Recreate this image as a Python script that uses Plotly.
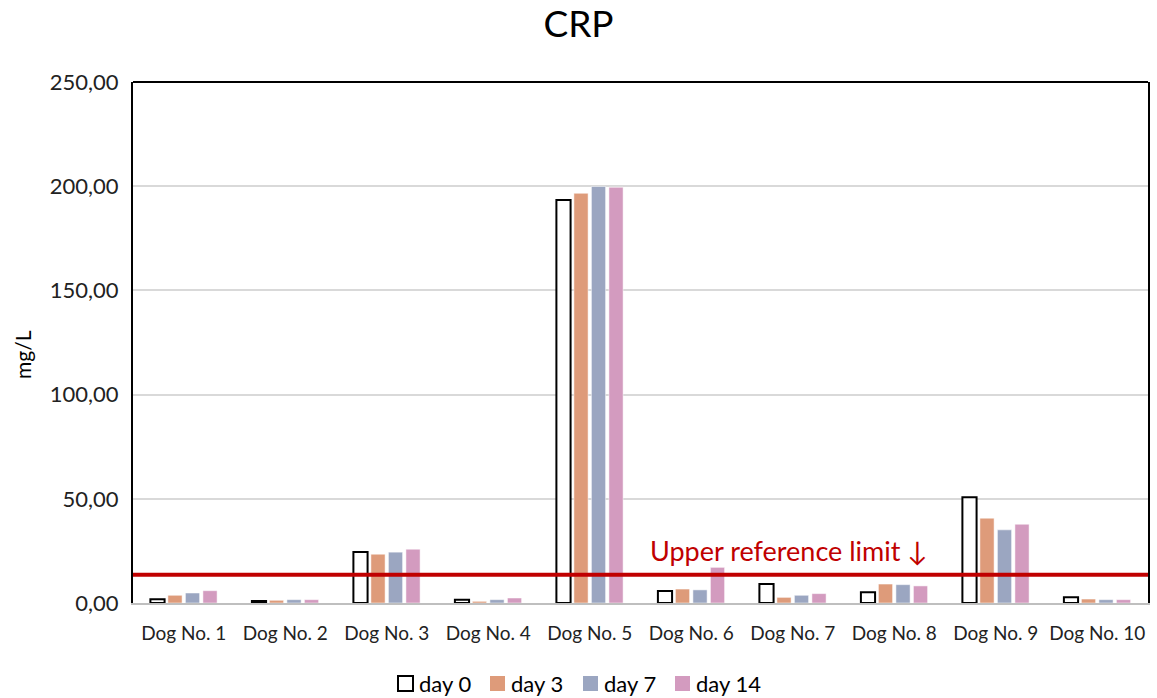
import plotly.graph_objects as go

dogs = [f"Dog No. {i}" for i in range(1, 11)]
day0 = [1.8, 1.0, 24.5, 1.6, 193.4, 5.8, 9.1, 5.1, 50.8, 2.7]
day3 = [3.7, 1.3, 23.4, 0.8, 196.6, 6.7, 2.7, 9.1, 40.7, 1.9]
day7 = [4.8, 1.6, 24.4, 1.6, 199.9, 6.3, 3.7, 8.8, 35.1, 1.6]
day14 = [5.9, 1.6, 25.8, 2.4, 199.5, 17.1, 4.5, 8.2, 37.8, 1.6]
upper_limit = 13.5

series_names = ["day 0", "day 3", "day 7", "day 14"]
series_fill = ["white", "#DE9B7A", "#9BA6C1", "#D39BBF"]
series_edge = ["black", "#DE9B7A", "#9BA6C1", "#D39BBF"]

FONT = "Lato, Carlito, Calibri, sans-serif"

W, H = 1157, 698
L, R, T, B = 133, 9, 82, 95
PW, PH = W - L - R, H - T - B


def px_x(px):
    return (px - L) / PW


def px_y(py):
    return (H - B - py) / PH


fig = go.Figure()
for name, vals, fill, edge in zip(series_names, [day0, day3, day7, day14],
                                  series_fill, series_edge):
    fig.add_bar(name=name, x=dogs, y=vals, showlegend=False,
                marker=dict(color=fill,
                            line=dict(color=edge if fill == "white" else "white",
                                      width=2 if fill == "white" else 0.5)))

# Upper reference limit line across the plot area
fig.add_shape(type="line", xref="paper", x0=0, x1=1, yref="y",
              y0=upper_limit, y1=upper_limit,
              line=dict(color="#C00000", width=4))
fig.add_annotation(text="Upper reference limit \u2193", xref="paper", x=px_x(789),
                   yref="paper", y=px_y(550), yanchor="middle", showarrow=False,
                   font=dict(family=FONT, size=27, color="#C00000"))
# top border of plot frame
fig.add_shape(type="line", xref="paper", x0=0, x1=1, yref="paper", y0=1, y1=1,
              line=dict(color="black", width=2))

# y-axis title
fig.add_annotation(text="mg/L", xref="paper", x=px_x(22), yref="paper", y=px_y(355),
                   textangle=-90, showarrow=False, xanchor="center", yanchor="middle",
                   font=dict(family=FONT, size=21, color="black"))

# legend row under the axis
leg_sq = [398, 490, 583, 675]
for sx, name, fill, edge in zip(leg_sq, series_names, series_fill, series_edge):
    fig.add_shape(type="rect", xref="paper", yref="paper",
                  x0=px_x(sx), x1=px_x(sx + 15), y0=px_y(691), y1=px_y(676),
                  fillcolor=fill, line=dict(color=edge, width=2 if fill == "white" else 0))
    fig.add_annotation(text=name, xref="paper", x=px_x(sx + 19), xanchor="left",
                       yref="paper", y=px_y(683), yanchor="middle", showarrow=False,
                       font=dict(family=FONT, size=22, color="black"))

fig.update_layout(
    width=W, height=H,
    margin=dict(l=L, r=R, t=T, b=B, autoexpand=False),
    paper_bgcolor="white", plot_bgcolor="white",
    separators=",.",
    barmode="group", bargap=0.31, bargroupgap=0.19,
    title=dict(text="CRP", x=0.5, xanchor="center", y=1 - 24 / H, yanchor="middle",
               font=dict(family=FONT, size=37, color="black")),
    font=dict(family=FONT, color="#222"),
    showlegend=False,
    xaxis=dict(showline=True, linecolor="#BFBFBF", linewidth=2,
               tickfont=dict(family=FONT, size=19, color="#222"),
               ticks="", showgrid=False, ticklabelstandoff=12),
    yaxis=dict(range=[0, 250], dtick=50, tickformat=".2f",
               showline=True, mirror=True, linecolor="black", linewidth=2,
               showgrid=True, gridcolor="#D9D9D9", gridwidth=1.5,
               zeroline=False, ticks="", ticklabelstandoff=8,
               tickfont=dict(family=FONT, size=22, color="#222")),
)

fig.write_html("out.html")
